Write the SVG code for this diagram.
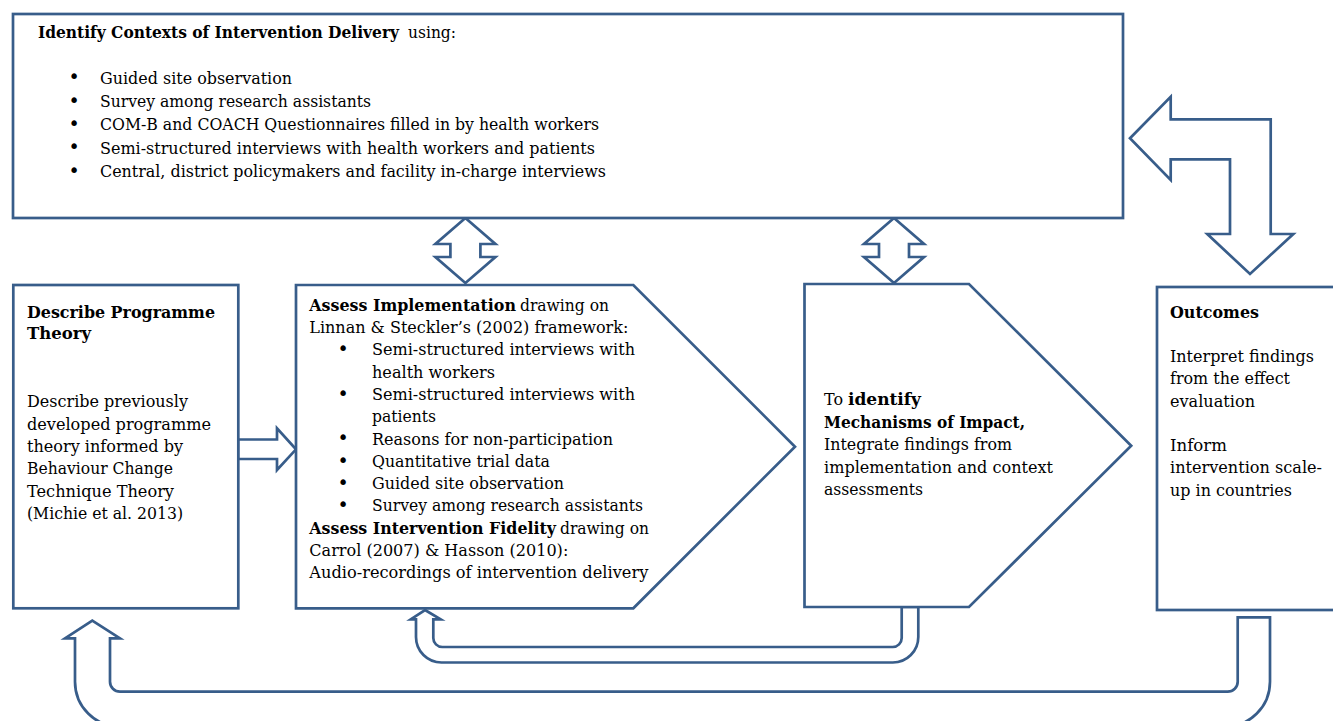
<svg xmlns="http://www.w3.org/2000/svg" width="1333" height="721" viewBox="0 0 1333 721">
<style>
.shape{fill:#ffffff;stroke:#385D8A;stroke-width:2.7;stroke-linejoin:miter}
.t{font-family:"DejaVu Serif","Liberation Serif",serif;font-size:16px;fill:#000000}
.b{font-weight:bold}
.bul{font-family:"DejaVu Sans","Liberation Sans",sans-serif;font-size:19px;fill:#000000;text-anchor:middle}
</style>
<rect width="1333" height="721" fill="#ffffff"/>
<g id="connectors">
<polygon class="shape" points="465.4,218 495.4,244 480.4,244 480.4,257 495.4,257 465.4,283 435.4,257 450.4,257 450.4,244 435.4,244"/>
<polygon class="shape" points="894,218 924,244 909,244 909,257 924,257 894,283 864,257 879,257 879,244 864,244"/>
<polygon class="shape" points="238,439.5 277,439.5 277,428.3 296,449.3 277,470 277,459 238,459"/>
<path class="shape" d="M1130,138.3 L1170.7,96.7 L1170.7,119.3 L1270.7,119.3 L1270.7,234 L1293.3,234 L1250,274 L1207.3,234 L1230,234 L1230,159.3 L1170.7,159.3 L1170.7,180 Z"/>
<path class="shape" d="M425,610 L440.7,619.3 L433.3,619.3 L433.3,638 A9 9 0 0 0 442.3,647 L892.7,647 A9 9 0 0 0 901.7,638 L901.7,607 L918.3,607 L918.3,637 A25.5 25.5 0 0 1 892.8,662.5 L441.5,662.5 A25.5 25.5 0 0 1 416,637 L416,619.3 L410.7,619.3 Z"/>
<path class="shape" d="M92.3,620.7 L120,638.3 L110,638.3 L110,681.7 A10 10 0 0 0 120,691.7 L1227.7,691.7 A10 10 0 0 0 1237.7,681.7 L1237.7,617.3 L1270,617.3 L1270,681.7 A45 45 0 0 1 1225,726.7 L120,726.7 A45 45 0 0 1 75,681.7 L75,638.3 L65,638.3 Z"/>
</g>
<g id="contexts">
<rect class="shape" x="13" y="14" width="1110" height="204"/>
<text class="t b" x="38" y="38" textLength="361" lengthAdjust="spacingAndGlyphs">Identify Contexts of Intervention Delivery</text>
<text class="t" x="408" y="38" textLength="48" lengthAdjust="spacingAndGlyphs">using:</text>
<text class="bul" x="74" y="83">•</text>
<text class="bul" x="74" y="106.5">•</text>
<text class="bul" x="74" y="130">•</text>
<text class="bul" x="74" y="153">•</text>
<text class="bul" x="74" y="176.5">•</text>
<text class="t" x="100" y="83.5" textLength="192" lengthAdjust="spacingAndGlyphs">Guided site observation</text>
<text class="t" x="100" y="107" textLength="271" lengthAdjust="spacingAndGlyphs">Survey among research assistants</text>
<text class="t" x="100" y="130.3" textLength="499" lengthAdjust="spacingAndGlyphs">COM-B and COACH Questionnaires  filled in by health workers</text>
<text class="t" x="100" y="153.6" textLength="495" lengthAdjust="spacingAndGlyphs">Semi-structured interviews with health workers and patients</text>
<text class="t" x="100" y="177" textLength="506" lengthAdjust="spacingAndGlyphs">Central, district policymakers and facility in-charge interviews</text>
</g>
<g id="programme-theory">
<rect class="shape" x="13.3" y="285" width="225" height="323.3"/>
<text class="t b" x="27" y="317.7" textLength="188" lengthAdjust="spacingAndGlyphs">Describe Programme</text>
<text class="t b" x="27" y="339.3" textLength="64" lengthAdjust="spacingAndGlyphs">Theory</text>
<text class="t" x="27" y="407.3" textLength="161" lengthAdjust="spacingAndGlyphs">Describe previously</text>
<text class="t" x="27" y="429.6" textLength="184" lengthAdjust="spacingAndGlyphs">developed programme</text>
<text class="t" x="27" y="451.9" textLength="156" lengthAdjust="spacingAndGlyphs">theory informed by</text>
<text class="t" x="27" y="474.2" textLength="146" lengthAdjust="spacingAndGlyphs">Behaviour Change</text>
<text class="t" x="27" y="496.5" textLength="147" lengthAdjust="spacingAndGlyphs">Technique Theory</text>
<text class="t" x="27" y="518.8" textLength="156" lengthAdjust="spacingAndGlyphs">(Michie et al. 2013)</text>
</g>
<g id="implementation">
<path class="shape" d="M296,285 L633.3,285 L795,446.7 L633.3,608.3 L296,608.3 Z"/>
<text class="t b" x="309.3" y="310.7" textLength="206.7" lengthAdjust="spacingAndGlyphs">Assess Implementation</text>
<text class="t" x="520" y="310.7" textLength="89" lengthAdjust="spacingAndGlyphs">drawing on</text>
<text class="t" x="309.3" y="333" textLength="319" lengthAdjust="spacingAndGlyphs">Linnan &amp; Steckler’s (2002) framework:</text>
<text class="bul" x="343" y="355">•</text>
<text class="bul" x="343" y="399.6">•</text>
<text class="bul" x="343" y="444.2">•</text>
<text class="bul" x="343" y="466.5">•</text>
<text class="bul" x="343" y="488.8">•</text>
<text class="bul" x="343" y="511.1">•</text>
<text class="t" x="372" y="355.3" textLength="263" lengthAdjust="spacingAndGlyphs">Semi-structured interviews with</text>
<text class="t" x="372" y="377.6" textLength="123" lengthAdjust="spacingAndGlyphs">health workers</text>
<text class="t" x="372" y="399.9" textLength="263" lengthAdjust="spacingAndGlyphs">Semi-structured interviews with</text>
<text class="t" x="372" y="422.2" textLength="64" lengthAdjust="spacingAndGlyphs">patients</text>
<text class="t" x="372" y="444.5" textLength="241" lengthAdjust="spacingAndGlyphs">Reasons for non-participation</text>
<text class="t" x="372" y="466.8" textLength="178" lengthAdjust="spacingAndGlyphs">Quantitative trial data</text>
<text class="t" x="372" y="489.1" textLength="192" lengthAdjust="spacingAndGlyphs">Guided site observation</text>
<text class="t" x="372" y="511.4" textLength="271" lengthAdjust="spacingAndGlyphs">Survey among research assistants</text>
<text class="t b" x="309.3" y="533.7" textLength="246.7" lengthAdjust="spacingAndGlyphs">Assess Intervention Fidelity</text>
<text class="t" x="560" y="533.7" textLength="89" lengthAdjust="spacingAndGlyphs">drawing on</text>
<text class="t" x="309.3" y="556" textLength="259" lengthAdjust="spacingAndGlyphs">Carrol (2007) &amp; Hasson (2010):</text>
<text class="t" x="309.3" y="578.3" textLength="339" lengthAdjust="spacingAndGlyphs">Audio-recordings of intervention delivery</text>
</g>
<g id="mechanisms">
<path class="shape" d="M804.5,284 L969,284 L1131.2,445.7 L969,607 L804.5,607 Z"/>
<text class="t" x="824" y="405" textLength="19" lengthAdjust="spacingAndGlyphs">To</text>
<text class="t b" x="848" y="405" textLength="73" lengthAdjust="spacingAndGlyphs">identify</text>
<text class="t b" x="824" y="427.5" textLength="201" lengthAdjust="spacingAndGlyphs">Mechanisms of Impact,</text>
<text class="t" x="824" y="450" textLength="188" lengthAdjust="spacingAndGlyphs">Integrate findings from</text>
<text class="t" x="824" y="472.5" textLength="229" lengthAdjust="spacingAndGlyphs">implementation and context</text>
<text class="t" x="824" y="495" textLength="99" lengthAdjust="spacingAndGlyphs">assessments</text>
</g>
<g id="outcomes">
<rect class="shape" x="1157" y="287" width="200" height="323"/>
<text class="t b" x="1170" y="317.7" textLength="89" lengthAdjust="spacingAndGlyphs">Outcomes</text>
<text class="t" x="1170" y="361.7" textLength="144" lengthAdjust="spacingAndGlyphs">Interpret findings</text>
<text class="t" x="1170" y="384.3" textLength="120" lengthAdjust="spacingAndGlyphs">from the effect</text>
<text class="t" x="1170" y="406.7" textLength="85" lengthAdjust="spacingAndGlyphs">evaluation</text>
<text class="t" x="1170" y="451" textLength="57" lengthAdjust="spacingAndGlyphs">Inform</text>
<text class="t" x="1170" y="473.3" textLength="152" lengthAdjust="spacingAndGlyphs">intervention scale-</text>
<text class="t" x="1170" y="495.7" textLength="122" lengthAdjust="spacingAndGlyphs">up in countries</text>
</g>
</svg>
